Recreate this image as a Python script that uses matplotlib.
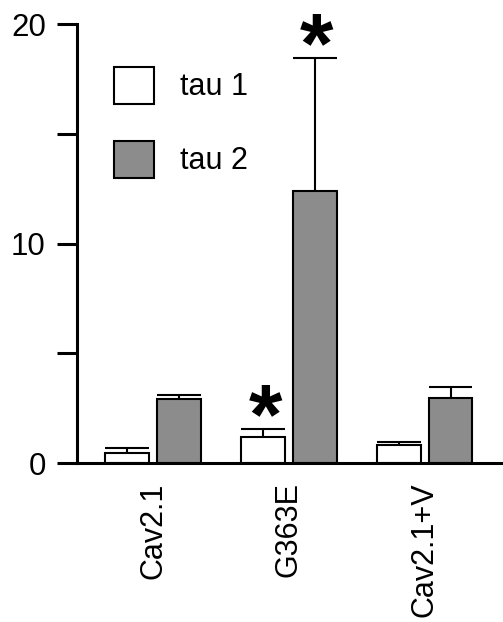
import numpy as np
import matplotlib
matplotlib.use('Agg')
import matplotlib.pyplot as plt

plt.rcParams['font.family'] = ['Liberation Sans', 'DejaVu Sans']

# Values
categories = ['Cav2.1', 'G363E', 'Cav2.1+V']
tau1 = [0.45, 1.2, 0.8]
tau1Err = [0.23, 0.37, 0.18]
tau2 = [2.9, 12.4, 2.95]
tau2Err = [0.22, 6.05, 0.5]
# Which bars carry a significance star
tau1Star = [False, True, False]
tau2Star = [False, True, False]

fig = plt.figure(figsize=(5.03, 6.22), dpi=100)
ax = fig.add_axes([0.153, 0.2556, 0.847, 0.7058])

x = np.arange(len(categories))
width = 0.32
offset = 0.19

ax.bar(x - offset, tau1, width, color='white', edgecolor='black', linewidth=1.5, label='tau 1', zorder=2)
ax.bar(x + offset, tau2, width, color='#8c8c8c', edgecolor='black', linewidth=1.5, label='tau 2', zorder=2)

# Upper-only error bars, caps as wide as the bar
for pos, vals, errs, stars in [(x - offset, tau1, tau1Err, tau1Star), (x + offset, tau2, tau2Err, tau2Star)]:
    for xi, v, e, s in zip(pos, vals, errs, stars):
        ax.vlines(xi, v, v + e, color='black', linewidth=1.5, zorder=3)
        ax.hlines(v + e, xi - width / 2, xi + width / 2, color='black', linewidth=1.5, zorder=3)
        if s:
            ax.annotate('*', (xi, v + e), xytext=(1.5, -10.5), textcoords='offset points',
                        ha='center', va='baseline', fontsize=62, fontweight='bold')

ax.set_xlim(-0.56, 2.575)
ax.set_ylim(0, 20)

ax.spines['top'].set_visible(False)
ax.spines['right'].set_visible(False)
ax.spines['left'].set_linewidth(2.2)
ax.spines['bottom'].set_linewidth(2.2)

ax.set_yticks([0, 10, 20])
ax.set_yticks([5, 15], minor=True)
ax.tick_params(axis='y', which='both', length=14.4, width=2.2, pad=8, labelsize=22.5)
ax.set_xticks(x)
ax.set_xticklabels(categories, rotation=90, fontsize=22, va='top')
ax.tick_params(axis='x', length=0, pad=14)

ax.legend(loc='upper left', bbox_to_anchor=(0.087, 0.903), frameon=False, fontsize=22,
          handlelength=1.3, handleheight=1.5, handletextpad=0.85, labelspacing=1.2,
          borderaxespad=0, borderpad=0)

fig.savefig('out.png', dpi=100)
